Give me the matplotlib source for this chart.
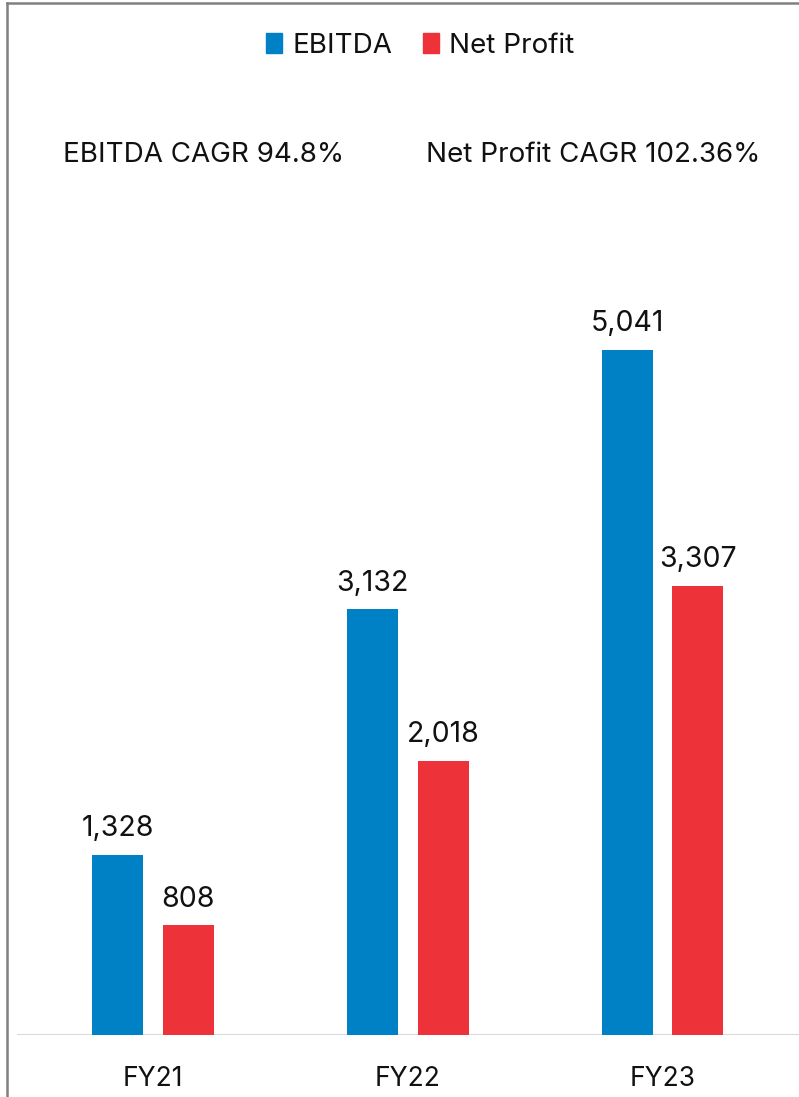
import matplotlib
matplotlib.use('Agg')
import matplotlib.pyplot as plt
from matplotlib.lines import Line2D
from matplotlib.patches import Patch
import numpy as np

years = ['FY21', 'FY22', 'FY23']
ebitda = [1328, 3132, 5041]
net_profit = [808, 2018, 3307]
cagr_notes = ['EBITDA CAGR 94.8%', 'Net Profit CAGR 102.36%']

BLUE = '#0081C6'
RED = '#EE3239'
TEXT = '#111111'

plt.rcParams['font.family'] = ['Inter', 'DejaVu Sans']

W, H = 799, 1097
fig = plt.figure(figsize=(W / 100, H / 100), dpi=100)
fig.patch.set_facecolor('white')

# plot area: baseline at y=1035 px, left edge x=17 px
ax = fig.add_axes([17 / W, (H - 1035) / H, 1 - 17 / W, 1035 / H])
x = np.arange(len(years))
bw = 0.2
off = 0.139
b1 = ax.bar(x - off, ebitda, bw, color=BLUE, zorder=2)
b2 = ax.bar(x + off, net_profit, bw, color=RED, zorder=2)

for bars, vals in ((b1, ebitda), (b2, net_profit)):
    for rect, v in zip(bars, vals):
        ax.annotate(f'{v:,}', (rect.get_x() + rect.get_width() / 2, v),
                    xytext=(0, 9), textcoords='offset points',
                    ha='center', va='bottom', fontsize=20.5, color=TEXT)

ax.set_xlim(-0.534, 2.536)
ax.set_ylim(0, 7616)
ax.axhline(0, color='#d9d9d9', lw=1.5, zorder=1)
for s in ax.spines.values():
    s.set_visible(False)
ax.set_yticks([])
ax.set_xticks(x)
ax.set_xticklabels(years, fontsize=19, color=TEXT)
ax.tick_params(axis='x', length=0, pad=22)

# legend and CAGR notes
handles = [Patch(color=BLUE, label='EBITDA'), Patch(color=RED, label='Net Profit')]
fig.legend(handles=handles, loc='center', bbox_to_anchor=(420 / W, 1 - 46 / H),
           ncol=2, frameon=False, fontsize=20, handlelength=0.6, handleheight=0.75,
           handletextpad=0.35, columnspacing=1.1, labelcolor=TEXT)
fig.text(204 / W, 1 - 155 / H, cagr_notes[0], ha='center', va='center', fontsize=20, color=TEXT)
fig.text(593 / W, 1 - 155 / H, cagr_notes[1], ha='center', va='center', fontsize=20, color=TEXT)

# frame lines on the top and left
fig.add_artist(Line2D([7 / W, 1], [1 - 3 / H, 1 - 3 / H], color='#808080', lw=1.8, transform=fig.transFigure))
fig.add_artist(Line2D([7 / W, 7 / W], [0, 1 - 3 / H], color='#808080', lw=1.8, transform=fig.transFigure))

fig.savefig('out.png', dpi=100, facecolor='white')
